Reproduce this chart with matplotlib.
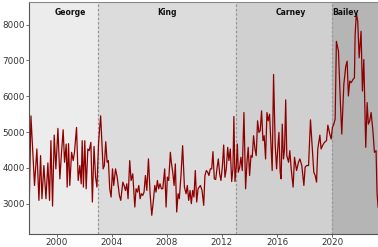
import matplotlib
matplotlib.use("Agg")
import matplotlib.pyplot as plt
import matplotlib.transforms as mtransforms

# ---- data (fractional year, value) ----
years = [
    1998.02, 1998.14, 1998.40, 1998.57, 1998.72, 1998.84, 1998.94, 1999.08,
    1999.23, 1999.37, 1999.49, 1999.59, 1999.71, 1999.83, 1999.95, 2000.10,
    2000.24, 2000.36, 2000.48, 2000.58, 2000.70, 2000.77, 2000.87, 2000.96,
    2001.09, 2001.21, 2001.30, 2001.45, 2001.57, 2001.69, 2001.79, 2001.86,
    2001.95, 2002.05, 2002.15, 2002.27, 2002.37, 2002.49, 2002.60, 2002.72,
    2002.83, 2002.93, 2003.05, 2003.20,
    # King
    2003.38, 2003.47, 2003.57, 2003.67, 2003.76, 2003.86, 2003.96, 2004.06,
    2004.15, 2004.28, 2004.40, 2004.56, 2004.66, 2004.81, 2004.90, 2005.00,
    2005.10, 2005.19, 2005.31, 2005.41, 2005.53, 2005.68, 2005.77, 2005.87,
    2005.97, 2006.06, 2006.16, 2006.26, 2006.35, 2006.45, 2006.55, 2006.67,
    2006.79, 2006.91, 2007.03, 2007.13, 2007.22, 2007.32, 2007.41, 2007.51,
    2007.61, 2007.71, 2007.85, 2007.95, 2008.04, 2008.14, 2008.26, 2008.33,
    2008.43, 2008.53, 2008.62, 2008.72, 2008.82, 2008.91, 2009.03, 2009.15,
    2009.28, 2009.40, 2009.49, 2009.59, 2009.69, 2009.78, 2009.88, 2009.97,
    2010.07, 2010.17, 2010.27, 2010.36, 2010.44, 2010.56, 2010.68, 2010.77,
    2010.87, 2010.97, 2011.06, 2011.16, 2011.26, 2011.35, 2011.45, 2011.55,
    2011.64, 2011.74, 2011.84, 2011.93, 2012.03, 2012.13, 2012.22, 2012.32,
    2012.42, 2012.51, 2012.61, 2012.71, 2012.80, 2012.87, 2012.95,
    # Carney
    2013.05, 2013.12, 2013.19, 2013.29, 2013.38, 2013.48, 2013.60, 2013.72,
    2013.82, 2013.91, 2014.01, 2014.11, 2014.20, 2014.30, 2014.40, 2014.49,
    2014.59, 2014.69, 2014.78, 2014.88, 2014.98, 2015.07, 2015.17, 2015.27,
    2015.36, 2015.46, 2015.56, 2015.65, 2015.75, 2015.87, 2015.97, 2016.06,
    2016.14, 2016.23, 2016.30, 2016.38, 2016.47, 2016.55, 2016.63, 2016.71,
    2016.84, 2016.93, 2017.03, 2017.17, 2017.27, 2017.42, 2017.56, 2017.66,
    2017.80, 2017.95, 2018.04, 2018.14, 2018.29, 2018.43, 2018.53, 2018.67,
    2018.77, 2018.87, 2018.96, 2019.11, 2019.20, 2019.30, 2019.44, 2019.59,
    2019.69, 2019.83, 2019.93, 2020.02, 2020.12,
    # Bailey
    2020.22, 2020.31, 2020.46, 2020.60, 2020.70, 2020.85, 2020.99, 2021.09,
    2021.18, 2021.28, 2021.38, 2021.52, 2021.62, 2021.67, 2021.76, 2021.86,
    2021.96, 2022.10, 2022.20, 2022.30, 2022.44, 2022.54, 2022.63, 2022.73,
    2022.83, 2022.97, 2023.07, 2023.19, 2023.26, 2023.34,
]
values = [
    3046, 5454, 3509, 4528, 3093, 4343, 3139, 4065,
    3139, 4139, 3093, 4759, 2935, 4917, 3972, 5102,
    3694, 4435, 5065, 4157, 4666, 3463, 4676, 3509,
    4435, 4204, 4435, 5130, 3648, 4065, 3555, 4759,
    3463, 4759, 3417, 4528, 4481, 4713, 3046, 4600,
    3741, 3463, 4713, 5454,
    3972, 4065, 4731, 4157, 4204, 3417, 3185, 3972,
    3509, 3972, 3741, 3231, 3093, 3602, 3509, 3370,
    3555, 3139, 4204, 3648, 3833, 2907, 3417, 3324,
    3509, 3139, 3278, 3231, 3324, 3787, 3370, 4250,
    3278, 2676, 3093, 3509, 3324, 3648, 3417, 3555,
    3417, 3417, 3972, 2907, 3741, 3648, 4435, 4157,
    3880, 3509, 4111, 2768, 3278, 3139, 3787, 4620,
    3463, 3278, 3509, 3093, 3370, 3000, 3370, 3185,
    3926, 3046, 3417, 3463, 3509, 3370, 2954, 3787,
    3926, 3880, 3787, 3972, 3972, 4453, 3694, 3676,
    3972, 4250, 3833, 3648, 4018, 4639, 3741, 3972,
    4574, 4204, 4528, 3620, 3972, 5435, 3620,
    4065, 4667, 3880, 4018, 4296, 3926, 5546, 3417,
    4157, 4574, 3787, 4343, 4296, 4898, 4528, 4343,
    5315, 4991, 5037, 5593, 4759, 4898, 4250, 5546,
    5315, 5500, 4667, 3926, 6611, 4620, 3972, 4574,
    4991, 3880, 3694, 5222, 4250, 4528, 5900, 4342,
    4157, 4481, 3972, 3462, 4296, 3926, 4157, 4250,
    4065, 3509, 4018, 4065, 4065, 5342, 4713, 3879,
    3787, 3602, 4528, 4916, 4528, 4620, 4713, 4759,
    5194, 4944, 4805, 5129, 5222,
    5360, 7537, 7259, 5823, 4944, 6333, 6842, 6981,
    6009, 6426, 6379, 6472, 6518, 7722, 8324, 8092,
    7074, 7815, 6148, 7027, 4573, 5823, 5222, 5314,
    5546, 4990, 4434, 4481, 3300, 2900,
]

governors = ["George", "King", "Carney", "Bailey"]
term_edges = [1998.0, 2003.0, 2013.0, 2020.0, 2023.33]
label_years = [2001.0, 2008.0, 2017.0, 2021.0]
shade = ["#ececec", "#dcdcdc", "#d0d0d0", "#b5b5b5"]

fig = plt.figure(figsize=(3.78, 2.47), dpi=100)
ax = fig.add_axes([29 / 378, 13.5 / 247, 1 - 29 / 378, 231 / 247])

trans = mtransforms.blended_transform_factory(ax.transData, ax.transAxes)
for i, name in enumerate(governors):
    ax.axvspan(term_edges[i], term_edges[i + 1], color=shade[i], lw=0, zorder=0)
    ax.text(label_years[i], 0.955, name, transform=trans, ha="center",
            va="center", fontsize=5.5, fontweight="bold", color="#111111")
for x in term_edges[1:-1]:
    ax.axvline(x, color="#999999", lw=0.9, ls=(0, (2, 1.5)), zorder=1)

ax.plot(years, values, color="#8e0000", lw=0.9, zorder=2)

ax.set_xlim(term_edges[0], term_edges[-1])
ax.set_ylim(2167, 8620)
ax.set_xticks([2000, 2004, 2008, 2012, 2016, 2020])
ax.set_yticks([3000, 4000, 5000, 6000, 7000, 8000])
ax.tick_params(labelsize=6.3, length=2, width=0.6, pad=1,
               colors="#555555", labelcolor="#333333")

for side in ["left", "bottom"]:
    ax.spines[side].set_color("#555555")
    ax.spines[side].set_linewidth(0.8)
ax.spines["top"].set_color("#888888")
ax.spines["top"].set_linewidth(0.8)
ax.spines["right"].set_visible(False)

fig.savefig("out.png", dpi=100)
